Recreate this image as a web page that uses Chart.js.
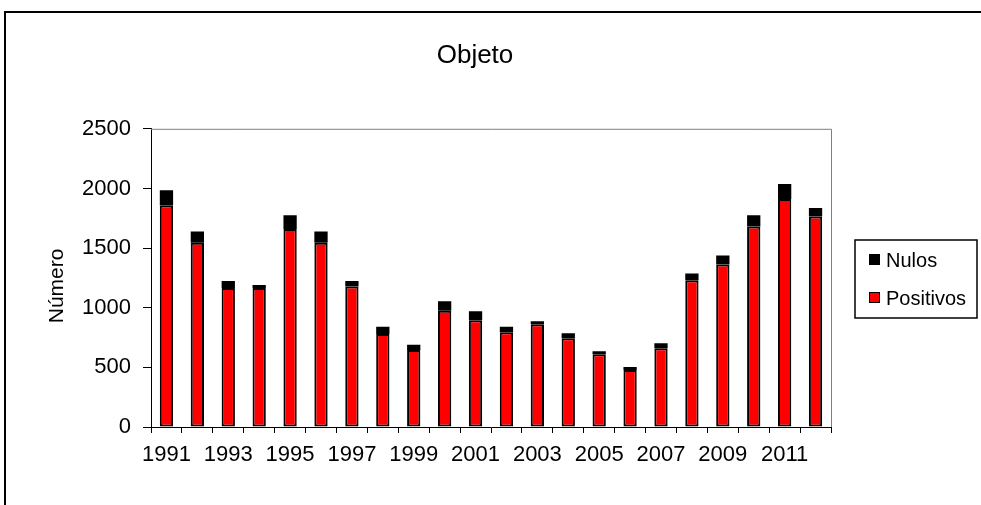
<!DOCTYPE html>
<html>
<head>
<meta charset="utf-8">
<script src="https://cdn.jsdelivr.net/npm/chart.js@4/dist/chart.umd.min.js"></script>
<style>
  body { margin: 0; background: #fff; }
  #wrap { width: 981px; height: 505px; }
</style>
</head>
<body>
<div id="wrap"><canvas id="chart" width="981" height="505"></canvas></div>
<script>
// values
const years = ['1991','1992','1993','1994','1995','1996','1997','1998','1999','2000','2001',
               '2002','2003','2004','2005','2006','2007','2008','2009','2010','2011','2012'];
const positivos = [1860,1545,1165,1165,1660,1545,1178,780,645,975,895,
                   795,862,745,610,477,660,1230,1362,1680,1912,1764];
const nulos = [125,95,60,25,115,95,45,60,45,80,75,
               45,25,42,25,25,43,57,75,95,125,73];
const yMax = 2500;
const yStep = 500;
const yTitle = 'Número';

const FONT = "'Liberation Sans', Arial, sans-serif";

// outer frame, plot border (gray top/right), y title and the boxed legend
const decor = {
  id: 'decor',
  beforeDraw(chart) {
    const ctx = chart.ctx;
    ctx.save();
    ctx.fillStyle = '#fff';
    ctx.fillRect(0, 0, chart.width, chart.height);
    ctx.strokeStyle = '#000';
    ctx.lineWidth = 2;
    ctx.strokeRect(5, 12, chart.width + 10, chart.height + 10);
    ctx.restore();
  },
  afterDraw(chart) {
    const ctx = chart.ctx;
    const a = chart.chartArea;
    ctx.save();
    ctx.strokeStyle = '#808080';
    ctx.lineWidth = 1;
    ctx.beginPath();
    ctx.moveTo(a.left, a.top + 0.5);
    ctx.lineTo(a.right + 0.5, a.top + 0.5);
    ctx.lineTo(a.right + 0.5, a.bottom);
    ctx.stroke();

    // y axis title, a little below the middle like the original
    ctx.save();
    ctx.translate(57, (a.top + a.bottom) / 2 + 8);
    ctx.rotate(-Math.PI / 2);
    ctx.font = '21px ' + FONT;
    ctx.fillStyle = '#000';
    ctx.textAlign = 'center';
    ctx.textBaseline = 'middle';
    ctx.fillText(yTitle, 0, 0);
    ctx.restore();

    // legend box
    const bx = a.right + 24, by = 240, bw = 122, bh = 78;
    ctx.strokeStyle = '#000';
    ctx.lineWidth = 1.5;
    ctx.strokeRect(bx, by, bw, bh);
    const items = chart.data.datasets.slice().reverse();
    ctx.font = '20px ' + FONT;
    ctx.textBaseline = 'middle';
    items.forEach((ds, i) => {
      const cy = by + 20 + i * 38;
      ctx.fillStyle = ds.backgroundColor;
      ctx.fillRect(bx + 14, cy - 6, 11, 11);
      ctx.strokeStyle = '#000';
      ctx.lineWidth = 1;
      ctx.strokeRect(bx + 14.5, cy - 5.5, 10, 10);
      ctx.fillStyle = '#000';
      ctx.fillText(ds.label, bx + 31, cy + 1);
    });
    ctx.restore();
  }
};

new Chart(document.getElementById('chart'), {
  type: 'bar',
  data: {
    labels: years,
    datasets: [
      { label: 'Positivos', data: positivos, backgroundColor: '#ff0000',
        borderColor: '#000', borderWidth: 2, borderSkipped: false },
      { label: 'Nulos', data: nulos, backgroundColor: '#000000',
        borderWidth: 0, inflateAmount: 0 }
    ]
  },
  options: {
    responsive: false,
    animation: false,
    layout: { padding: { left: 0, top: 0, right: 31, bottom: 0 } },
    datasets: { bar: { categoryPercentage: 1, barPercentage: 0.43 } },
    plugins: {
      legend: { display: false },
      tooltip: { enabled: false },
      title: {
        display: true,
        text: 'Objeto',
        color: '#000',
        font: { family: FONT, size: 26, weight: 'normal' },
        padding: { top: 40, bottom: 57.6 }
      }
    },
    scales: {
      x: {
        stacked: true,
        grid: { display: true, drawOnChartArea: false, drawTicks: true, tickLength: 6, color: '#000', offset: true },
        border: { color: '#000', width: 1 },
        ticks: {
          color: '#000', autoSkip: false, maxRotation: 0, padding: 9,
          font: { family: FONT, size: 22 },
          callback: (v, i) => (i % 2 === 0 ? years[i] : '')
        },
        afterFit: s => { s.height = 505 - 427; }
      },
      y: {
        stacked: true,
        min: 0,
        max: yMax,
        grid: { display: true, drawOnChartArea: false, drawTicks: true, tickLength: 8, color: '#000' },
        border: { color: '#000', width: 1 },
        ticks: { stepSize: yStep, color: '#000', padding: 12, font: { family: FONT, size: 22 },
                 callback: v => String(v) },
        afterFit: s => { s.width = 151; }
      },
      // empty axis that keeps the room on the right for the legend
      yRight: {
        position: 'right',
        display: true,
        grid: { display: false },
        border: { display: false },
        ticks: { display: false },
        afterFit: s => { s.width = 981 - 31 - 831; }
      }
    }
  },
  plugins: [decor]
});
</script>
</body>
</html>
